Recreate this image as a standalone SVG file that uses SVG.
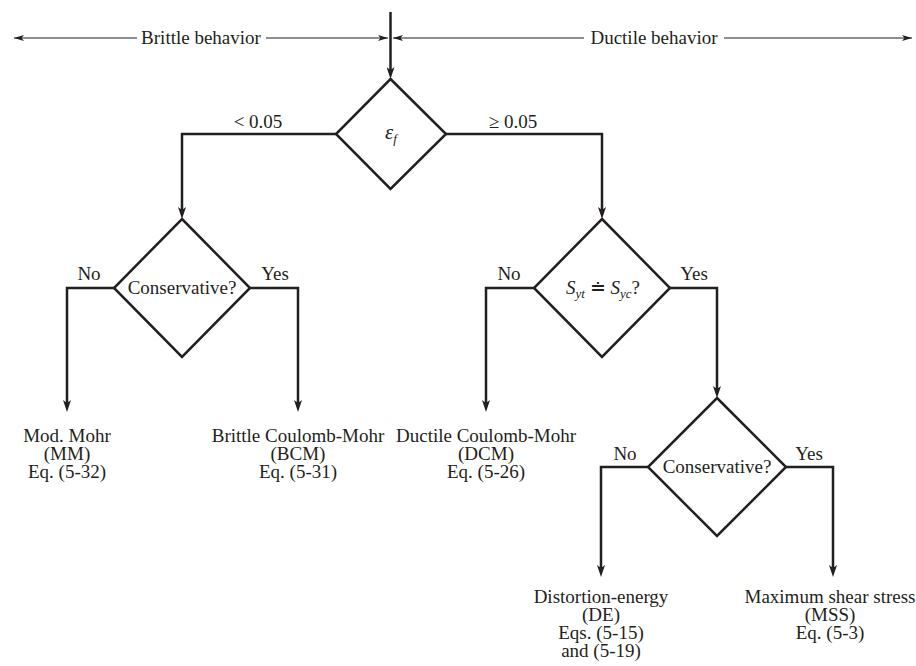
<svg xmlns="http://www.w3.org/2000/svg" width="916" height="666" viewBox="0 0 916 666">
<style>
text{font-family:"Liberation Serif","Times New Roman",serif;font-size:19px;fill:#231f20;text-anchor:middle}
.it{font-style:italic}
.eps{font-style:italic;font-size:21px}
.sub{font-size:13px;font-style:italic}
.main{fill:none;stroke:#231f20;stroke-width:2.5}
.thin{fill:none;stroke:#231f20;stroke-width:1.2}
.dia{fill:#fff;stroke:#231f20;stroke-width:2.5;stroke-linejoin:miter}
</style>
<defs>
<marker id="ah" viewBox="0 0 12 8" refX="6" refY="4" markerWidth="12" markerHeight="8" markerUnits="userSpaceOnUse" orient="auto">
<path d="M0,0 L12,4 L0,8 L3,4 Z" fill="#231f20"/>
</marker>
<marker id="ahs" viewBox="0 0 10 6" refX="10" refY="3" markerWidth="10" markerHeight="6" markerUnits="userSpaceOnUse" orient="auto">
<path d="M0,0 L10,3 L0,6 L2.5,3 Z" fill="#231f20"/>
</marker>
</defs>
<g id="connectors">
<line class="thin" x1="137" y1="38" x2="14" y2="38" marker-end="url(#ahs)"/>
<line class="thin" x1="266" y1="38" x2="388" y2="38" marker-end="url(#ahs)"/>
<line class="thin" x1="584" y1="38" x2="393" y2="38" marker-end="url(#ahs)"/>
<line class="thin" x1="724" y1="38" x2="912" y2="38" marker-end="url(#ahs)"/>
<line class="main" x1="390.5" y1="12" x2="390.5" y2="73" marker-end="url(#ah)"/>
<path class="main" d="M336,134 H182 V213" marker-end="url(#ah)"/>
<path class="main" d="M446,134 H602 V213" marker-end="url(#ah)"/>
<path class="main" d="M114,288 H67 V406" marker-end="url(#ah)"/>
<path class="main" d="M250,288 H298 V406" marker-end="url(#ah)"/>
<path class="main" d="M534,288 H486 V406" marker-end="url(#ah)"/>
<path class="main" d="M670,288 H717 V392" marker-end="url(#ah)"/>
<path class="main" d="M648,467 H601 V571" marker-end="url(#ah)"/>
<path class="main" d="M786,467 H833 V571" marker-end="url(#ah)"/>
<text x="258" y="128">&lt; 0.05</text>
<text x="513" y="128">≥ 0.05</text>
<text x="89" y="280">No</text>
<text x="275" y="280">Yes</text>
<text x="509" y="280">No</text>
<text x="694" y="280">Yes</text>
<text x="625" y="460">No</text>
<text x="809" y="460">Yes</text>
</g>
<g id="header">
<text x="201" y="44">Brittle behavior</text>
<text x="654" y="44">Ductile behavior</text>
</g>
<g id="d1">
<polygon class="dia" points="390.5,79 446,134 390.5,189 336,134"/>
<text x="391" y="139"><tspan class="eps">ε</tspan><tspan class="sub" dy="4">f</tspan></text>
</g>
<g id="d2">
<polygon class="dia" points="182,219 250,288 182,357 114,288"/>
<text x="182" y="294">Conservative?</text>
</g>
<g id="d3">
<polygon class="dia" points="602,219 670,288 602,357 534,288"/>
<text x="603" y="294"><tspan class="it">S</tspan><tspan class="sub" dy="4">yt</tspan><tspan dy="-4"> ≐ </tspan><tspan class="it">S</tspan><tspan class="sub" dy="4">yc</tspan><tspan dy="-4">?</tspan></text>
</g>
<g id="d4">
<polygon class="dia" points="717,398 786,467 717,536 648,467"/>
<text x="717" y="473">Conservative?</text>
</g>
<g id="mm">
<text x="67" y="442">Mod. Mohr</text>
<text x="67" y="460">(MM)</text>
<text x="67" y="478">Eq. (5-32)</text>
</g>
<g id="bcm">
<text x="298" y="442">Brittle Coulomb-Mohr</text>
<text x="298" y="460">(BCM)</text>
<text x="298" y="478">Eq. (5-31)</text>
</g>
<g id="dcm">
<text x="486" y="442">Ductile Coulomb-Mohr</text>
<text x="486" y="460">(DCM)</text>
<text x="486" y="478">Eq. (5-26)</text>
</g>
<g id="de">
<text x="601" y="603">Distortion-energy</text>
<text x="601" y="621">(DE)</text>
<text x="601" y="639">Eqs. (5-15)</text>
<text x="601" y="657">and (5-19)</text>
</g>
<g id="mss">
<text x="830" y="603">Maximum shear stress</text>
<text x="830" y="621">(MSS)</text>
<text x="830" y="639">Eq. (5-3)</text>
</g>
</svg>
